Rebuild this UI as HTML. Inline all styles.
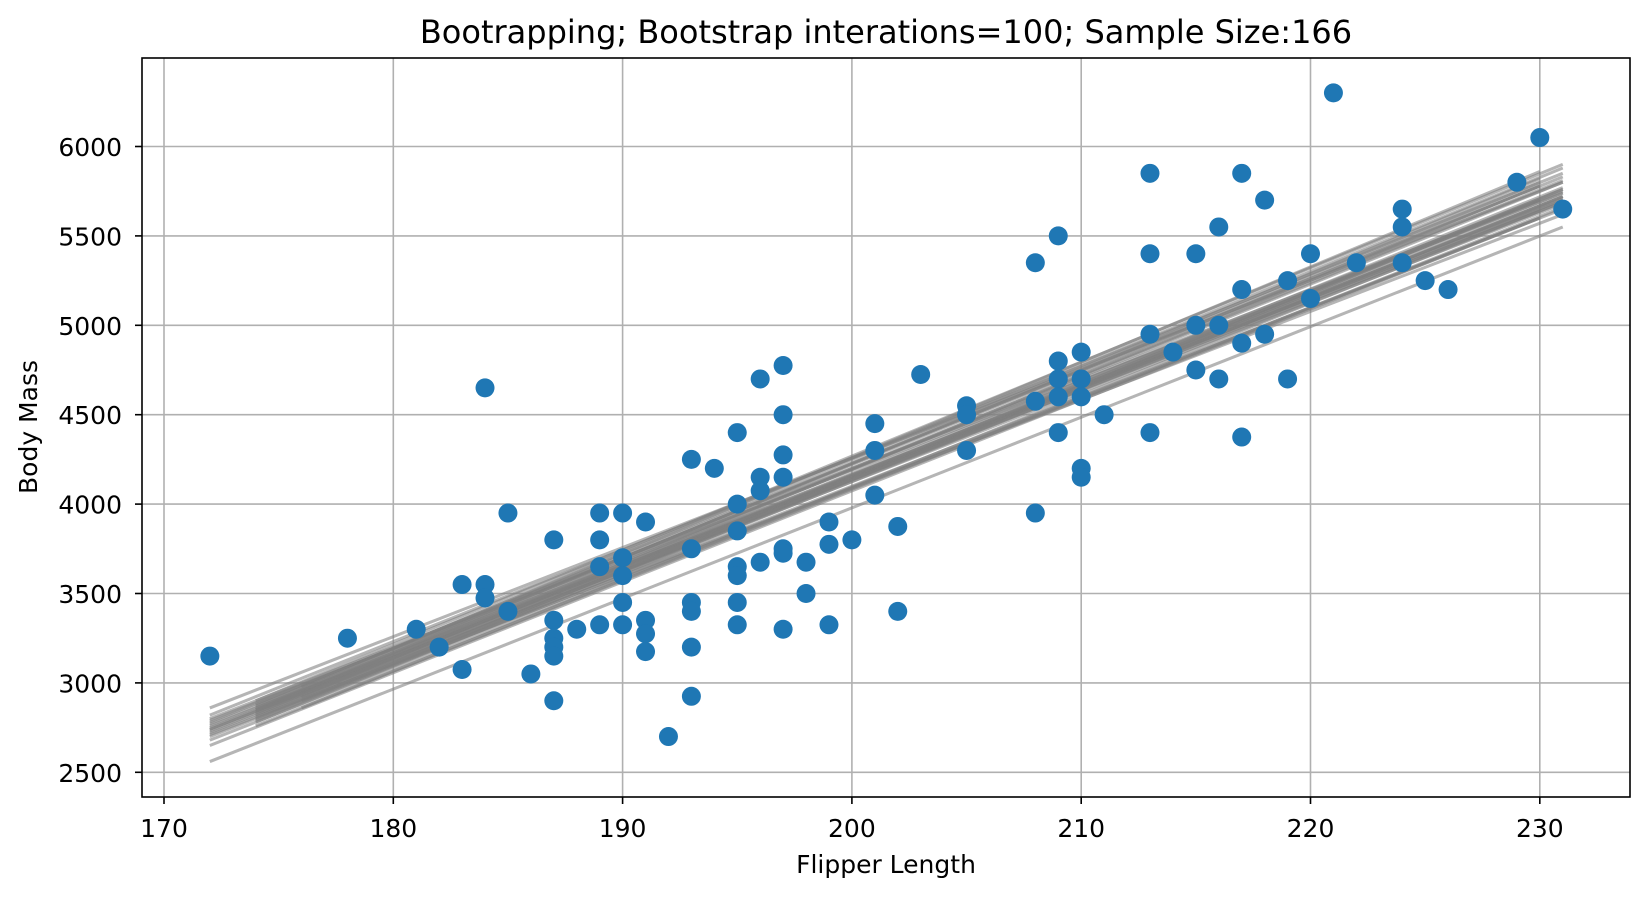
<!DOCTYPE html>
<html><head><meta charset="utf-8"><style>
body{margin:0;background:#fff;}
svg text{font-family:"DejaVu Sans","Liberation Sans",sans-serif;fill:#000;}
</style></head><body>
<svg id="chart" width="1649" height="898" xmlns="http://www.w3.org/2000/svg">
<rect width="1649" height="898" fill="#fff"/>
<g id="grid"></g>
<g id="lines"></g>
<g id="points"></g>
<rect x="142" y="58" width="1488" height="739" fill="none" stroke="#000" stroke-width="1.6"/>
<g id="ticks"></g>
<text x="886" y="43" font-size="32" text-anchor="middle">Bootrapping; Bootstrap interations=100; Sample Size:166</text>
<text x="886" y="873" font-size="25" text-anchor="middle">Flipper Length</text>
<text x="37" y="427" font-size="25" text-anchor="middle" transform="rotate(-90 37 427)">Body Mass</text>
</svg>
<script>
const xTicks=[170,180,190,200,210,220,230];
const yTicks=[2500,3000,3500,4000,4500,5000,5500,6000];
const flipper=[172,178,181,182,183,183,184,184,184,185,185,186,187,187,187,187,187,187,188,189,189,189,189,190,190,190,190,190,191,191,191,191,192,193,193,193,193,193,193,194,195,195,195,195,195,195,195,196,196,196,196,197,197,197,197,197,197,197,198,198,199,199,199,200,201,201,201,202,202,203,205,205,205,208,208,208,209,209,209,209,209,210,210,210,210,210,211,213,213,213,213,214,215,215,215,216,216,216,217,217,217,217,218,218,219,219,220,220,221,222,224,224,224,225,226,229,230,231];
const mass=[3150,3250,3300,3200,3550,3075,4650,3550,3475,3950,3400,3050,3800,3350,3250,3200,3150,2900,3300,3950,3800,3650,3325,3950,3700,3600,3450,3325,3900,3350,3275,3175,2700,4250,3750,3450,3400,3200,2925,4200,4400,4000,3850,3650,3600,3450,3325,4700,4150,4075,3675,4775,4500,4275,4150,3750,3725,3300,3675,3500,3900,3775,3325,3800,4450,4300,4050,3875,3400,4725,4550,4500,4300,5350,4575,3950,5500,4800,4700,4600,4400,4850,4700,4600,4200,4150,4500,5850,5400,4950,4400,4850,5400,5000,4750,5550,5000,4700,5850,5200,4900,4375,5700,4950,5250,4700,5400,5150,6300,5350,5650,5550,5350,5250,5200,5800,6050,5650];
// bootstrap fits: start x, end x, fitted mass at start, fitted mass at end
const fitStartX=[172,172,172,172,172,172,172,172,172,172,172,172,174,174,174,174,174,174,174,174,174,174,176,176,176,176,176,172,172,174,174,172,172,174,174,172];
const fitEndX=[231,231,231,231,231,231,230,230,230,231,231,231,231,231,230,230,231,231,230,231,231,231,231,230,231,231,230,231,230,231,231,231,231,231,230,231];
const fitStartY=[2860,2800,2760,2740,2720,2700,2780,2680,2650,2560,2820,2750,2900,2880,2850,2820,2800,2870,2780,2840,2760,2810,2950,2900,2920,2860,2980,2770,2730,2830,2790,2710,2790,2850,2860,2740];
const fitEndY=[5800,5750,5700,5720,5680,5650,5780,5600,5600,5550,5850,5700,5900,5880,5820,5780,5760,5830,5700,5740,5660,5720,5800,5700,5760,5690,5860,5710,5640,5770,5720,5620,5740,5810,5800,5690];

const NS='http://www.w3.org/2000/svg';
const X0=142,X1=1630,Y0=58,Y1=797;
const sx=v=>164+(v-170)*22.93;
const sy=v=>146.5+(6000-v)/500*89.4;
function mk(tag,attrs,parent){const e=document.createElementNS(NS,tag);for(const k in attrs)e.setAttribute(k,attrs[k]);parent.appendChild(e);return e;}
const grid=document.getElementById('grid'),ticks=document.getElementById('ticks');
xTicks.forEach(t=>{
  const g=mk('line',{x1:sx(t),x2:sx(t),y1:Y0,y2:Y1,stroke:'#b0b0b0','stroke-width':1.6},grid);
  
  
  const tk=mk('line',{x1:sx(t),x2:sx(t),y1:Y1,y2:Y1+7,stroke:'#000','stroke-width':1.6},ticks);
  
  
  const l=mk('text',{x:sx(t),y:837,'font-size':25,'text-anchor':'middle'},ticks);
  l.textContent=t;
  
  
});
yTicks.forEach(t=>{
  const g=mk('line',{x1:X0,x2:X1,y1:sy(t),y2:sy(t),stroke:'#b0b0b0','stroke-width':1.6},grid);
  
  
  const tk=mk('line',{x1:X0-7,x2:X0,y1:sy(t),y2:sy(t),stroke:'#000','stroke-width':1.6},ticks);
  
  
  const l=mk('text',{x:122,y:sy(t)+9.5,'font-size':25,'text-anchor':'end'},ticks);
  l.textContent=t;
  
  
});
const pts=document.getElementById('points');
flipper.forEach((f,i)=>{
  const c=mk('circle',{cx:sx(f),cy:sy(mass[i]),r:9.5,fill:'#1f77b4'},pts);
  
  
});
const lines=document.getElementById('lines');
for(let k=0;k<3;k++){
fitStartX.forEach((x,i)=>{
  const l=mk('line',{x1:sx(x),y1:sy(fitStartY[i]),x2:sx(fitEndX[i]),y2:sy(fitEndY[i]),stroke:'#808080','stroke-opacity':0.25,'stroke-width':3},lines);
  
  
});}
</script>
</body></html>
